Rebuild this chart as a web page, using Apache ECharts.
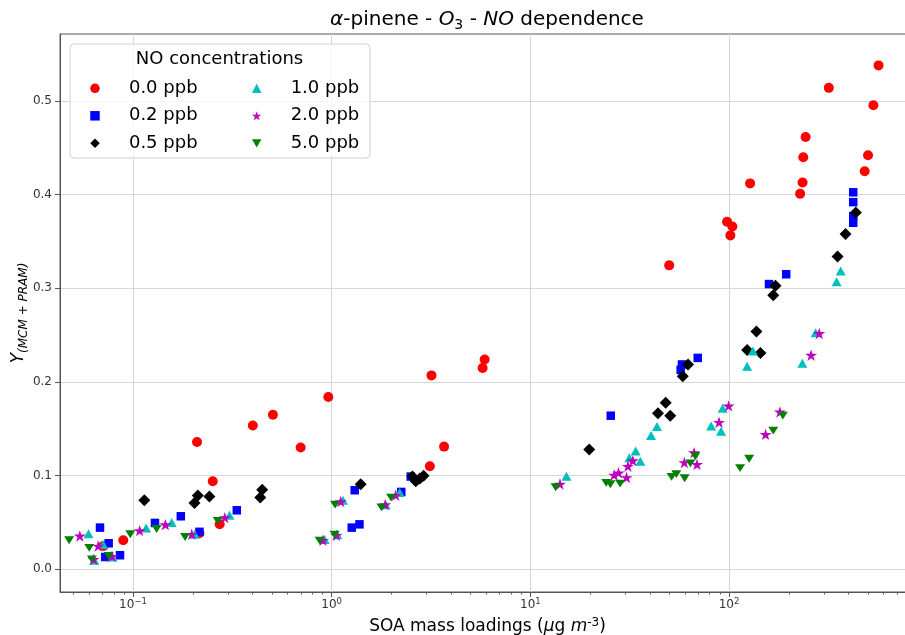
<!DOCTYPE html>
<html>
<head>
<meta charset="utf-8">
<script src="https://cdn.jsdelivr.net/npm/echarts@6/dist/echarts.min.js"></script>
<style>
html,body{margin:0;padding:0;background:#fff;}
#chart{width:905px;height:635px;}
</style>
</head>
<body>
<div id="chart"></div>
<script>
// ---------- data ----------
const seriesNames = ['0.0 ppb', '0.2 ppb', '0.5 ppb', '1.0 ppb', '2.0 ppb', '5.0 ppb'];

const no00X = [0.0711, 0.0893, 0.210, 0.216, 0.252, 0.273, 0.401, 0.506, 0.698, 0.962, 3.12, 3.18, 3.68, 5.75, 5.89, 50.0, 97.8, 101.6, 104, 127.7, 228, 234.6, 236.5, 243, 318, 482, 501, 533, 566];
const no00Y = [0.025, 0.031, 0.136, 0.0385, 0.094, 0.048, 0.1535, 0.165, 0.130, 0.184, 0.110, 0.207, 0.131, 0.215, 0.224, 0.3245, 0.371, 0.3565, 0.366, 0.412, 0.401, 0.413, 0.440, 0.4615, 0.514, 0.425, 0.442, 0.4954, 0.538];

const no02X = [0.0682, 0.0754, 0.0725, 0.0860, 0.129, 0.174, 0.216, 0.333, 1.262, 1.306, 1.38, 2.24, 2.5, 25.4, 57.1, 58.0, 69.6, 159, 194, 422, 422, 422, 422];
const no02Y = [0.0445, 0.0278, 0.0131, 0.015, 0.0495, 0.0566, 0.040, 0.063, 0.0445, 0.0844, 0.048, 0.0826, 0.099, 0.164, 0.213, 0.2187, 0.2257, 0.3045, 0.315, 0.4025, 0.392, 0.377, 0.370];

const no05X = [0.114, 0.204, 0.212, 0.2425, 0.437, 0.447, 1.40, 2.55, 2.65, 2.78, 2.9, 19.8, 43.9, 48.0, 50.6, 58.5, 62.2, 123.4, 137.4, 144, 167, 171.4, 352, 386, 435];
const no05Y = [0.0737, 0.0709, 0.0787, 0.0777, 0.0766, 0.085, 0.0908, 0.099, 0.094, 0.097, 0.100, 0.128, 0.1667, 0.1777, 0.1638, 0.206, 0.2187, 0.234, 0.254, 0.231, 0.2927, 0.3027, 0.334, 0.358, 0.381];

const no10X = [0.0597, 0.0708, 0.0638, 0.0789, 0.1164, 0.1566, 0.2046, 0.306, 0.922, 1.069, 1.14, 1.87, 2.20, 15.2, 31.5, 33.9, 35.8, 40.5, 43.4, 81.3, 91.2, 92.9, 123.4, 132, 234, 273, 348, 365];
const no10Y = [0.038, 0.0264, 0.0096, 0.013, 0.044, 0.050, 0.0374, 0.0577, 0.0317, 0.037, 0.0737, 0.069, 0.082, 0.0994, 0.119, 0.1264, 0.1154, 0.1428, 0.1525, 0.1531, 0.1474, 0.172, 0.2169, 0.233, 0.220, 0.2525, 0.307, 0.3184];

const no20X = [0.054, 0.0668, 0.0633, 0.0784, 0.108, 0.1455, 0.1976, 0.2897, 0.904, 1.056, 1.11, 1.86, 2.10, 14.1, 26.4, 27.8, 30.5, 31.0, 32.8, 59.6, 66.7, 69.0, 89.1, 99.6, 152.8, 180.4, 259, 284.6];
const no20Y = [0.0356, 0.0249, 0.0107, 0.0139, 0.0413, 0.0477, 0.0374, 0.0552, 0.031, 0.0363, 0.0723, 0.069, 0.079, 0.091, 0.1007, 0.103, 0.098, 0.110, 0.116, 0.114, 0.1246, 0.112, 0.157, 0.1745, 0.144, 0.168, 0.2286, 0.2518];

const no50X = [0.0477, 0.0602, 0.0621, 0.0754, 0.0969, 0.1315, 0.183, 0.267, 0.870, 1.035, 1.04, 1.78, 1.99, 13.4, 24.1, 25.3, 28.3, 51.4, 54.3, 59.8, 63.9, 67.7, 113.7, 126.3, 167, 186.6];
const no50Y = [0.031, 0.0228, 0.0107, 0.0142, 0.0374, 0.043, 0.0345, 0.0516, 0.0306, 0.037, 0.069, 0.066, 0.0766, 0.0876, 0.0922, 0.0908, 0.0915, 0.0986, 0.1015, 0.0972, 0.113, 0.1207, 0.108, 0.118, 0.148, 0.164];

const xTickValues = [0.1, 1, 10, 100];
const xTickExponents = ['\u22121', '0', '1', '2'];
const yTickValues = [0, 0.1, 0.2, 0.3, 0.4, 0.5];
const yTickLabels = ['0.0', '0.1', '0.2', '0.3', '0.4', '0.5'];

// ---------- styling ----------
const FONT = 'DejaVu Sans';
const xMin = 0.0429, xMax = 863.5;
const yMin = -0.02424, yMax = 0.5715;

// minor tick positions of the log axis (2..9 x 10^k)
const minorTicks = [];
for (let k = -2; k <= 2; k++) {
  for (let m = 2; m <= 9; m++) {
    const v = m * Math.pow(10, k);
    if (v > xMin && v < xMax) minorTicks.push(v);
  }
}

const starPath = 'path://M50,0L61.23,34.55L97.55,34.55L68.17,55.9L79.39,90.45L50,69.1L20.61,90.45L31.83,55.9L2.45,34.55L38.77,34.55Z';
const downTri = 'path://M0,0L10,0L5,8.66Z';
const diamondPath = 'path://M5,0L10,5L5,10L0,5Z';

const styles = [
  { color: '#ff0000', symbol: 'circle', size: 10 },
  { color: '#0000ff', symbol: 'rect', size: 8.5 },
  { color: '#000000', symbol: diamondPath, size: 12 },
  { color: '#00bfbf', symbol: 'triangle', size: [10, 9] },
  { color: '#bf00bf', symbol: starPath, size: 12 },
  { color: '#008000', symbol: downTri, size: [10, 9] }
];
const xs = [no00X, no02X, no05X, no10X, no20X, no50X];
const ys = [no00Y, no02Y, no05Y, no10Y, no20Y, no50Y];

const series = seriesNames.map((name, i) => ({
  type: 'scatter',
  name: name,
  xAxisIndex: 0,
  yAxisIndex: 0,
  data: xs[i].map((x, j) => [x, ys[i][j]]),
  symbol: styles[i].symbol,
  symbolSize: styles[i].size,
  symbolKeepAspect: true,
  itemStyle: { color: styles[i].color, opacity: 1 },
  emphasis: { disabled: true },
  z: 2
}));

const legendCommon = {
  orient: 'vertical',
  top: 78.3,
  padding: 0,
  itemWidth: 9.5,
  itemHeight: 9.5,
  itemGap: 7.5,
  selectedMode: false,
  symbolKeepAspect: true,
  textStyle: { fontFamily: FONT, fontSize: 18, lineHeight: 20, color: '#000', padding: [0, 0, 0, 24.2] },
  z: 5
};

const chart = echarts.init(document.getElementById('chart'), null, { renderer: 'canvas' });
chart.setOption({
  animation: false,
  backgroundColor: '#ffffff',
  title: {
    text: '{i|\u03b1}-pinene - {i|O}{sub|3} - {i|NO} dependence',
    left: 487,
    textAlign: 'center',
    top: 8,
    padding: 0,
    textStyle: {
      fontFamily: FONT, fontSize: 20, lineHeight: 24, fontWeight: 'normal', color: '#000',
      rich: {
        i: { fontFamily: FONT, fontSize: 20, lineHeight: 24, fontStyle: 'italic', color: '#000' },
        sub: { fontFamily: FONT, fontSize: 14, lineHeight: 11, verticalAlign: 'bottom', color: '#000' }
      }
    }
  },
  grid: {
    left: 60, right: -10, top: 34, bottom: 43,
    show: true, borderColor: '#555', borderWidth: 1, backgroundColor: 'transparent',
    outerBoundsMode: 'none', containLabel: false
  },
  legend: [
    Object.assign({}, legendCommon, { left: 90.25, data: seriesNames.slice(0, 3) }),
    Object.assign({}, legendCommon, { left: 251.95, data: seriesNames.slice(3, 6) })
  ],
  graphic: [
    {
      type: 'rect', z: 3,
      shape: { x: 70, y: 44, width: 300, height: 114, r: 4 },
      style: { fill: 'rgba(255,255,255,0.8)', stroke: '#d0d0d0', lineWidth: 1 }
    },
    {
      type: 'text', z: 6,
      x: 219.5, y: 59,
      style: { text: 'NO concentrations', fontFamily: FONT, fontSize: 18, fill: '#000', align: 'center', verticalAlign: 'middle' }
    }
  ],
  xAxis: [
    {
      type: 'log', logBase: 10, min: xMin, max: xMax, position: 'bottom', gridIndex: 0,
      name: 'SOA mass loadings ({i|\u03bc}g {i|m}{sup|-3})',
      nameLocation: 'middle', nameGap: 25, nameMoveOverlap: false,
      nameTextStyle: {
        fontFamily: FONT, fontSize: 17, lineHeight: 20, color: '#000',
        rich: {
          i: { fontFamily: FONT, fontSize: 17, lineHeight: 20, fontStyle: 'italic', color: '#000' },
          sup: { fontFamily: FONT, fontSize: 12, lineHeight: 8, verticalAlign: 'top', color: '#000' }
        }
      },
      axisLine: { show: true, onZero: false, lineStyle: { color: '#555', width: 1 } },
      axisTick: { show: true, length: 5, customValues: xTickValues, lineStyle: { color: '#555' } },
      axisLabel: {
        customValues: xTickValues,
        margin: 5,
        fontFamily: FONT, fontSize: 12, lineHeight: 16, color: '#333',
        formatter: function (val) {
          const e = Math.round(Math.log10(val));
          const idx = xTickValues.findIndex(t => Math.round(Math.log10(t)) === e);
          return idx < 0 ? '' : '10{sup|' + xTickExponents[idx] + '}';
        },
        rich: { sup: { fontFamily: FONT, fontSize: 8.5, lineHeight: 8, verticalAlign: 'top', color: '#333' } }
      },
      splitLine: { show: true, lineStyle: { color: '#d6d6d6', width: 1 } },
      minorTick: { show: false }
    },
    {
      type: 'log', logBase: 10, min: xMin, max: xMax, position: 'bottom', gridIndex: 0,
      axisLine: { show: false, onZero: false },
      axisTick: { show: true, length: 2.5, customValues: minorTicks, lineStyle: { color: '#555' } },
      axisLabel: { show: false },
      splitLine: { show: false }
    }
  ],
  yAxis: {
    type: 'value', min: yMin, max: yMax,
    name: '{i|Y}{sub|(MCM + PRAM)}',
    nameLocation: 'middle', nameGap: 30, nameRotate: 90, nameMoveOverlap: false,
    nameTextStyle: {
      fontFamily: FONT, fontSize: 17, lineHeight: 22, color: '#000',
      rich: {
        i: { fontFamily: FONT, fontSize: 17, lineHeight: 22, fontStyle: 'italic', color: '#000' },
        sub: { fontFamily: FONT, fontSize: 12, lineHeight: 12, fontStyle: 'italic', verticalAlign: 'bottom', color: '#000' }
      }
    },
    axisLine: { show: true, onZero: false, lineStyle: { color: '#555', width: 1 } },
    axisTick: { show: true, length: 5, customValues: yTickValues, lineStyle: { color: '#555' } },
    axisLabel: {
      customValues: yTickValues,
      margin: 8,
      fontFamily: FONT, fontSize: 12, color: '#333',
      formatter: function (val) {
        const idx = yTickValues.findIndex(t => Math.abs(t - val) < 1e-9);
        return idx < 0 ? '' : yTickLabels[idx];
      }
    },
    splitLine: { show: true, lineStyle: { color: '#d6d6d6', width: 1 } }
  },
  series: series
});
</script>
</body>
</html>
